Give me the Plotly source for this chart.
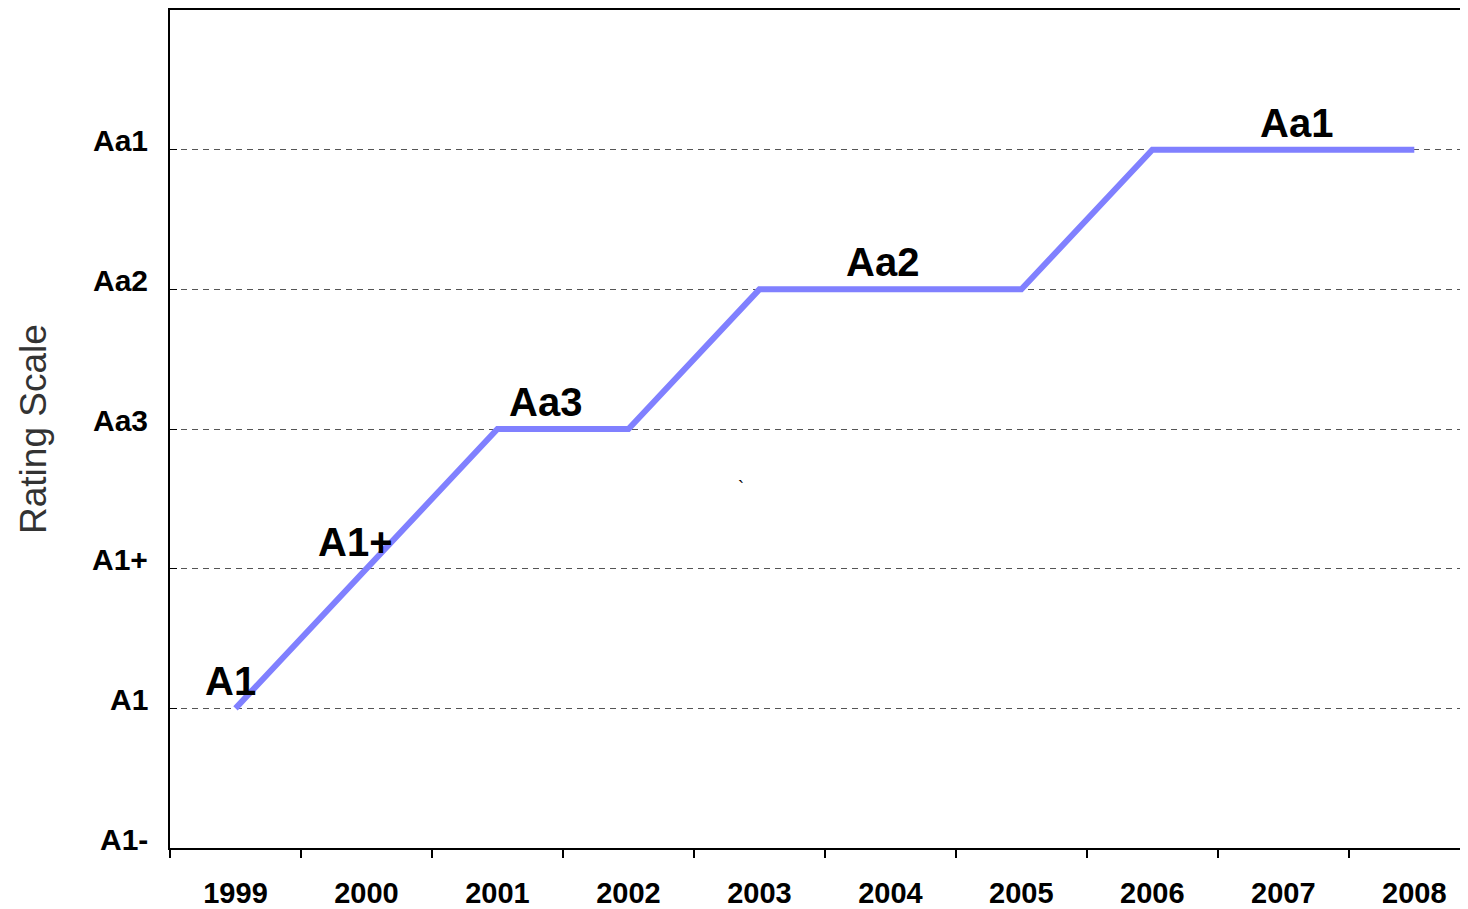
import plotly.graph_objects as go

years = ["1999", "2000", "2001", "2002", "2003", "2004", "2005", "2006", "2007", "2008"]
rating_levels = [1, 2, 3, 3, 4, 4, 4, 5, 5, 5]
scale_values = [0, 1, 2, 3, 4, 5]
scale_labels = ["A1-", "A1", "A1+", "Aa3", "Aa2", "Aa1"]

label_texts = ["A1", "A1+", "Aa3", "Aa2", "Aa1"]
label_x = [-0.04, 0.92, 2.37, 4.94, 8.10]
label_y = [1, 2, 3, 4, 5]

FONT = "Liberation Sans, Arial, sans-serif"

fig = go.Figure()
fig.add_trace(go.Scatter(
    x=years, y=rating_levels, mode="lines",
    line=dict(color="#8080FF", width=6),
    hoverinfo="skip", showlegend=False,
))

for t, x, y in zip(label_texts, label_x, label_y):
    fig.add_annotation(
        x=x, y=y, text=t, showarrow=False,
        xanchor="center", yanchor="bottom", yshift=3,
        font=dict(family=FONT, size=40, color="black", weight="bold"),
    )

# rating scale labels sitting slightly above their gridlines
for v, t in zip(scale_values, scale_labels):
    fig.add_annotation(
        x=0, xref="paper", y=v, yref="y", text=t, showarrow=False,
        xanchor="right", yanchor="middle", xshift=-20, yshift=9,
        font=dict(family=FONT, size=30, color="black", weight="bold"),
    )

fig.add_annotation(x=3.86, y=2.58, text="`", showarrow=False,
                   font=dict(family=FONT, size=18, color="black"))

fig.add_annotation(
    x=0, xref="paper", y=0.5, yref="paper", text="Rating Scale", showarrow=False,
    textangle=-90, xanchor="center", yanchor="middle", xshift=-137,
    borderpad=0,
    font=dict(family=FONT, size=37, color="#333333"),
)

fig.update_layout(
    width=1460, height=901,
    margin=dict(l=162, r=0, t=0, b=59),
    paper_bgcolor="white", plot_bgcolor="white",
    showlegend=False,
    xaxis=dict(
        type="category", range=[-0.5, 9.41],
        tickson="boundaries", ticks="outside", ticklen=8, tickwidth=2, tickcolor="black",
        showline=True, linecolor="black", linewidth=2, mirror=True,
        showgrid=False, zeroline=False,
        ticklabelstandoff=18,
        tickfont=dict(family=FONT, size=29, color="black", weight="bold"),
    ),
    yaxis=dict(
        range=[0, 6], tickmode="array", tickvals=scale_values,
        showticklabels=False,
        ticks="inside", ticklen=7, tickwidth=1, tickcolor="black",
        showline=True, linecolor="black", linewidth=2, mirror=False,
        showgrid=True, gridcolor="#555555", gridwidth=1, griddash="6px,5px",
        zeroline=False,
    ),
)

fig.write_html("out.html")
